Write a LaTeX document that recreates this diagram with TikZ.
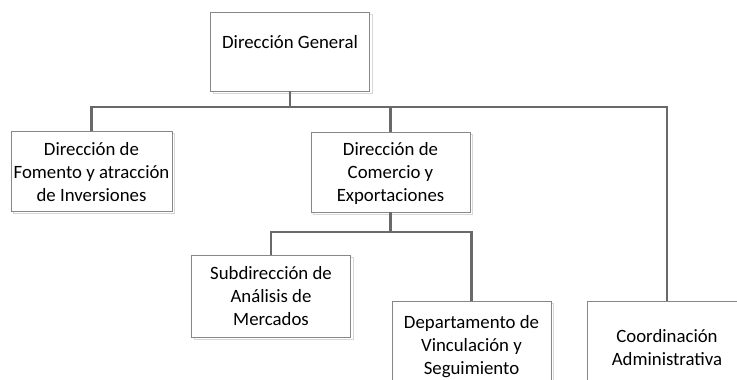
\documentclass[tikz,border=0pt]{standalone}
\usepackage{fontspec}
\setmainfont{Carlito}
\usepackage{tikz}
\usetikzlibrary{positioning, calc, shadows}
\definecolor{linkcolor}{RGB}{105, 105, 105}
\definecolor{boxcolor}{RGB}{135, 135, 135}
\definecolor{ghostcolor}{RGB}{215, 215, 215}

\tikzset{
  unit/.style={draw=boxcolor, line width=0.9pt, fill=white, minimum width=159pt, inner sep=0pt,
    drop shadow={fill=none, draw=ghostcolor, opacity=1, shadow xshift=2.5pt, shadow yshift=-2.5pt}},
  unittext/.style={font=\fontsize{18.8}{23}\selectfont, align=center, text=black},
  link/.style={draw=linkcolor, line width=2.2pt}
}

\begin{document}
\begin{tikzpicture}[x=1pt, y=-1pt]
    \useasboundingbox (0,0) rectangle (737,380);
    \begin{scope}
    \clip (0,0) rectangle (737,380);

    % bus lines
    \coordinate (bus) at (0,107);
    \coordinate (subbus) at (0,232);

    % Direccion General
    \node[unit, minimum height=79pt] (dg) at (290, 51.5) {};
    \node[unittext] (dgtext) at (290, 42) {Dirección General};

    % first level
    \node[unit, minimum width=161pt, minimum height=80pt] (fom) at (91.5, 171) {};
    \node[unittext] (fomtext) at (91.5, 172) {Dirección de\\Fomento y atracción\\de Inversiones};

    \node[unit, minimum height=80pt] (com) at (390.5, 172) {};
    \node[unittext] (comtext) at (390.5, 173) {Dirección de\\Comercio y\\Exportaciones};

    \node[unit, minimum height=98pt] (coo) at (667, 350) {};
    \node[unittext] (cootext) at (667, 348) {Coordinación\\Administrativa};

    % second level
    \node[unit, minimum height=82pt] (sub) at (271, 296) {};
    \node[unittext] (subtext) at (271, 296) {Subdirección de\\Análisis de\\Mercados};

    \node[unit, minimum height=98pt] (dep) at (471.5, 350) {};
    \node[unittext] (deptext) at (471.5, 346.5) {Departamento de\\Vinculación y\\Seguimiento};

    % connectors
    \draw[link] (dg.south) -- (dg.south |- bus);
    \draw[link] (fom.north) |- (coo.north |- bus) -- (coo.north);
    \draw[link] (com.north) -- (com.north |- bus);
    \draw[link] (com.south) -- (com.south |- subbus);
    \draw[link] (sub.north) |- (dep.north |- subbus) -- (dep.north);
    \end{scope}
\end{tikzpicture}
\end{document}
